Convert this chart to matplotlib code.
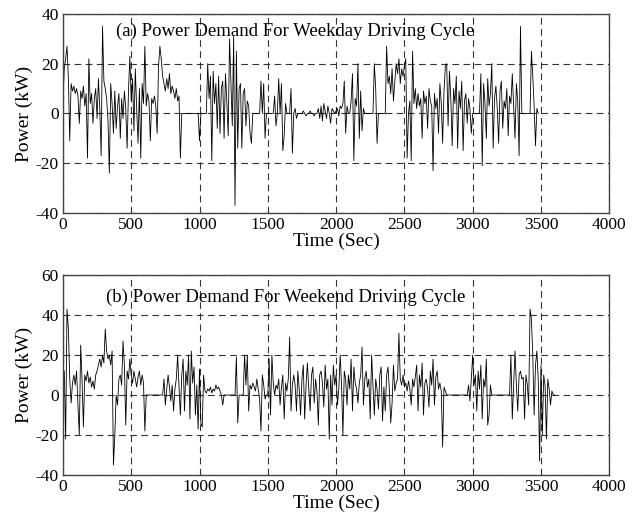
import numpy as np
import matplotlib.pyplot as plt

plt.rcParams['font.family'] = ['Liberation Serif', 'DejaVu Serif']
plt.rcParams['axes.unicode_minus'] = False

weekday_kw = [
    5, 18, 22, 27, 14, -11, 12, 9, 11, 8,
    10, 7, -4, 9, 6, 11, 3, 8, -18, 22,
    4, 8, -4, 6, 10, -2, 14, 2, -17, 35,
    13, 10, 6, -3, -24, 12, 4, -8, 9, -6,
    3, 8, -10, 6, -2, 9, 2, -14, 9, 23,
    5, 14, -7, 18, 2, -12, 10, -18, 12, 4,
    27, 3, 8, 5, -11, 6, 4, 7, 3, -8,
    19, 27, 22, 15, 12, 9, 14, 10, 16, 8,
    11, 9, 6, 10, 5, 7, -18, 0, 0, 0,
    0, 0, 0, 0, 0, 0, 0, 0, 0, 0,
    -11, 0, 0, 0, 0, 0, 20, 6, 15, -19,
    17, 4, 12, -6, 15, -8, 10, 13, -10, 16,
    5, -9, 30, 12, -5, 31, -37, 25, -14, 10,
    12, -14, 8, 10, -5, 5, 3, -8, -12, 0,
    0, 0, 0, 0, 0, 13, 0, 12, -10, 0,
    0, 0, 0, 0, 0, 7, -5, 0, 14, 0,
    12, -15, -9, 4, 0, 0, 0, 10, -16, 0,
    2, -2, 0, 0, 0, 0, 1, 0, -1, 0,
    0, 1, 0, 0, -1, 0, 0, 2, -2, 3,
    -3, 4, 1, -2, 3, 0, -4, 2, 1, 0,
    1, 2, -1, 3, 2, 4, 13, -8, 3, 0,
    0, 5, 16, -19, 6, 3, 20, -10, 9, -7,
    2, 0, 0, 0, 0, 0, 0, 0, 20, 10,
    -12, 0, 0, 0, 0, 0, 0, 27, 12, 15,
    8, 18, 5, 13, 20, 16, 22, 12, 18, 15,
    19, 22, -18, 0, 5, -19, 25, 4, 10, 2,
    8, 3, 6, -10, 9, 4, 7, -6, 10, 5,
    3, -23, 8, 2, 6, -8, 12, 4, -12, 9,
    19, 20, -5, 17, 6, -13, 10, 4, 15, -14,
    9, 2, 13, -15, 5, 8, -4, 6, 2, -8,
    0, 0, 0, 0, 0, 0, 16, -21, 12, 4,
    -10, 14, 3, 8, 20, -14, 6, 11, 2, -12,
    9, 13, -6, 5, 2, 10, -9, 7, 4, 16,
    3, -10, 12, 5, -17, 35, 0, 0, 0, 0,
    0, 0, 0, 25, 15, 3, -13, 2, 0,
]

weekend_kw = [
    0, 12, -22, 43, 33, 8, -4, 6, 10, 5,
    12, -5, -20, 25, 8, -16, 10, 7, 12, 6,
    9, 4, 7, 3, 10, 12, 15, 18, 14, 20,
    16, 33, 22, 18, 20, 15, 22, -35, -20, 0,
    -5, 8, 10, 5, 27, 15, -15, 12, 8, 18,
    10, 6, 12, 8, 4, 9, 12, 5, 10, 6,
    -18, 0, 0, 0, 0, 0, 0, 0, 0, 0,
    0, 0, 0, 0, 8, -5, 3, 10, 4, -3,
    5, -8, 3, 8, 20, 4, -10, 10, 18, -8,
    12, 5, 20, -12, 22, 6, 14, -10, 5, -17,
    13, -14, -16, 10, 2, 1, 3, 2, 4, 1,
    3, 2, 5, 3, 4, 2, 0, -5, 0, 0,
    0, 0, 0, 0, 0, 0, 0, 19, -14, 0,
    0, 0, 0, 20, 5, 20, -8, 5, 3, 6,
    4, 2, 8, 3, -2, -18, 10, 5, -2, 0,
    0, 18, -10, 20, 6, 0, 5, 3, 8, -5,
    4, 10, -12, 6, 2, 8, 29, -8, 5, 10,
    5, -8, 12, 3, -10, 8, 15, -12, 5, 16,
    3, -8, 10, 14, -4, 8, 2, -15, 10, 12,
    6, -6, 15, 3, 8, -22, 10, -5, 15, 5,
    10, -5, 3, 20, 5, -20, 12, 8, -5, 10,
    3, 18, -8, 14, 6, 3, -4, 6, 10, 24,
    -5, 8, 12, 4, 8, -12, 20, 5, -10, 8,
    3, -7, 10, 14, -13, 4, -8, 10, 14, 3,
    -14, -4, 15, 2, 6, 8, 31, 8, 5, 10,
    4, 6, 2, 7, 3, -5, 8, 4, 9, 15,
    -8, 10, 4, 16, -10, 6, 8, 3, -6, 12,
    5, 18, -5, 9, 12, 3, 6, 2, -26, 4,
    2, 0, 0, 0, 0, 0, 0, 0, 0, 0,
    0, 0, 0, 0, 0, 0, 0, 5, -3, 8,
    20, 5, 10, -8, 12, 3, 15, -12, 8, 4,
    18, -15, -10, 5, 0, 0, 0, 0, 0, 0,
    0, 0, 0, 0, 0, 0, 0, 0, 20, -12,
    5, 22, 5, -8, 10, 12, 8, 9, -12, 10,
    5, -5, 43, 38, 20, -10, 15, 22, 8, -33,
    15, -20, 10, 5, -22, 8, 3, -5, 2, 0,
    0,
]

t_weekday = np.arange(len(weekday_kw)) * 10
t_weekend = np.arange(len(weekend_kw)) * 10

x_ticks = [0, 500, 1000, 1500, 2000, 2500, 3000, 3500, 4000]

fig = plt.figure(figsize=(6.42, 5.18), dpi=100)
ax1 = fig.add_axes([0.098, 0.589, 0.851, 0.384])
ax2 = fig.add_axes([0.098, 0.083, 0.851, 0.386])

panels = [
    (ax1, t_weekday, weekday_kw, [-40, -20, 0, 20, 40], '(a) Power Demand For Weekday Driving Cycle', 0.097, 0.915),
    (ax2, t_weekend, weekend_kw, [-40, -20, 0, 20, 40, 60], '(b) Power Demand For Weekend Driving Cycle', 0.079, 0.89),
]

for ax, t, p, yt, title, tx, ty in panels:
    ax.plot(t, p, color='black', lw=0.6)
    ax.set_xlim(0, 4000)
    ax.set_ylim(yt[0], yt[-1])
    ax.set_xticks(x_ticks)
    ax.set_yticks(yt)
    ax.grid(True, linestyle=(0, (6, 4)), color='#333333', lw=0.8)
    ax.tick_params(direction='in', length=0, labelsize=12.5, pad=3)
    for s in ax.spines.values():
        s.set_color('#444444')
        s.set_linewidth(1.0)
    ax.set_xlabel('Time (Sec)', fontsize=14, labelpad=0)
    ax.set_ylabel('Power (kW)', fontsize=14, labelpad=2)
    ax.text(tx, ty, title, transform=ax.transAxes, fontsize=13.5, va='center', ha='left')

fig.savefig('out.png', dpi=100)
